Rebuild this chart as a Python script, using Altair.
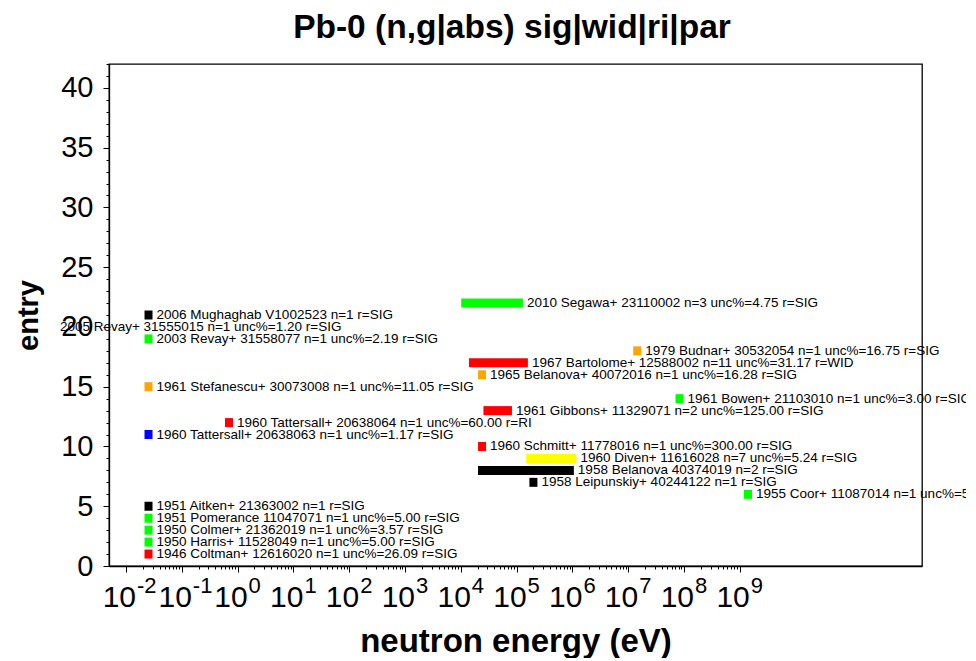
import altair as alt
import pandas as pd

# ---- data ----
entry = list(range(1, 23))
labels = [
    "1946 Coltman+ 12616020 n=1 unc%=26.09 r=SIG",
    "1950 Harris+ 11528049 n=1 unc%=5.00 r=SIG",
    "1950 Colmer+ 21362019 n=1 unc%=3.57 r=SIG",
    "1951 Pomerance 11047071 n=1 unc%=5.00 r=SIG",
    "1951 Aitken+ 21363002 n=1 r=SIG",
    "1955 Coor+ 11087014 n=1 unc%=5.00 r=SIG",
    "1958 Leipunskiy+ 40244122 n=1 r=SIG",
    "1958 Belanova 40374019 n=2 r=SIG",
    "1960 Diven+ 11616028 n=7 unc%=5.24 r=SIG",
    "1960 Schmitt+ 11778016 n=1 unc%=300.00 r=SIG",
    "1960 Tattersall+ 20638063 n=1 unc%=1.17 r=SIG",
    "1960 Tattersall+ 20638064 n=1 unc%=60.00 r=RI",
    "1961 Gibbons+ 11329071 n=2 unc%=125.00 r=SIG",
    "1961 Bowen+ 21103010 n=1 unc%=3.00 r=SIG",
    "1961 Stefanescu+ 30073008 n=1 unc%=11.05 r=SIG",
    "1965 Belanova+ 40072016 n=1 unc%=16.28 r=SIG",
    "1967 Bartolome+ 12588002 n=11 unc%=31.17 r=WID",
    "1979 Budnar+ 30532054 n=1 unc%=16.75 r=SIG",
    "2003 Revay+ 31558077 n=1 unc%=2.19 r=SIG",
    "2005 Revay+ 31555015 n=1 unc%=1.20 r=SIG",
    "2006 Mughaghab V1002523 n=1 r=SIG",
    "2010 Segawa+ 23110002 n=3 unc%=4.75 r=SIG",
]
e_lo = [0.0253, 0.0253, 0.0253, 0.0253, 0.0253, 1.4e9, 2.0e5, 2.4e4, 1.75e5, 2.4e4,
        0.0253, 0.7, 3.0e4, 8.3e7, 0.0253, 2.4e4, 1.65e4, 1.45e7, 0.0253, 4.7e-4,
        0.0253, 1.2e4]
e_hi = [0.0253, 0.0253, 0.0253, 0.0253, 0.0253, 1.4e9, 2.0e5, 9.0e5, 1.0e6, 2.4e4,
        0.0253, 0.7, 7.0e4, 8.3e7, 0.0253, 2.4e4, 1.35e5, 1.45e7, 0.0253, 4.7e-4,
        0.0253, 1.1e5]
colors = ["#ff0000", "#00ff00", "#00ff00", "#00ff00", "#000000", "#00ff00", "#000000",
          "#000000", "#ffff00", "#ff0000", "#0000ff", "#ff0000", "#ff0000", "#00ff00",
          "#ffa500", "#ffa500", "#ff0000", "#ffa500", "#00ff00", "#00ff00", "#000000",
          "#00ff00"]

# x tick labels: 10^k for k = -2 .. 9
decade_exp = list(range(-2, 10))

title_text = "Pb-0 (n,g|abs) sig|wid|ri|par"
x_title = "neutron energy (eV)"
y_title = "entry"

df = pd.DataFrame({"entry": entry, "label": labels, "e_lo": e_lo, "e_hi": e_hi,
                   "color": colors})
dec_df = pd.DataFrame({"dec": [10.0 ** k for k in decade_exp],
                       "base": ["10"] * len(decade_exp),
                       "exp": [str(k) for k in decade_exp]})
title_df = pd.DataFrame({"t": [title_text]})

FONT = "Liberation Sans"
W, H = 813, 502

xscale = alt.Scale(type="log", domain=[10 ** -2.305, 10 ** 12.265], nice=False, padding=0)
yscale = alt.Scale(domain=[0, 42], nice=False, zero=False, padding=0)

minor_x = [m * 10.0 ** k for k in range(-2, 9) for m in range(2, 10)]
major_x = [10.0 ** k for k in decade_exp]
minor_y = list(range(0, 43))
major_y = list(range(0, 41, 5))

bars = alt.Chart(df).mark_bar(size=9, clip=True, xOffset=-4, x2Offset=4).encode(
    x=alt.X("e_lo:Q", scale=xscale,
            axis=alt.Axis(values=minor_x, tickSize=3, labels=False, grid=False,
                          orient="bottom", title=x_title, titleX=W / 2, titleY=85,
                          titleAlign="center", titleBaseline="alphabetic",
                          titleFontSize=33, titleFontWeight="bold", titleFont=FONT)),
    x2="e_hi:Q",
    y=alt.Y("entry:Q", scale=yscale,
            axis=alt.Axis(values=minor_y, tickSize=3, labels=False, grid=False,
                          orient="left", title=None)),
    color=alt.Color("color:N", scale=None),
)

texts = alt.Chart(df).mark_text(align="left", baseline="middle", dx=8, fontSize=13.5,
                                font=FONT, color="black").encode(
    x=alt.X("e_hi:Q", scale=xscale,
            axis=alt.Axis(values=major_x, tickSize=6, labels=False, grid=False,
                          orient="bottom", domain=False, title=None)),
    y=alt.Y("entry:Q", scale=yscale,
            axis=alt.Axis(values=major_y, tickSize=6, labelFontSize=29, labelPadding=10,
                          grid=False, orient="left", domain=False, labelOverlap=False,
                          labelFlush=False, labelBound=False,
                          title=y_title, titleAngle=270, titleX=-72, titleY=H / 2,
                          titleAlign="center", titleBaseline="alphabetic",
                          titleFontSize=29, titleFontWeight="bold", titleFont=FONT)),
    text="label:N",
)

tick_base = alt.Chart(dec_df).mark_text(align="right", baseline="alphabetic", dx=10,
                                        fontSize=30, font=FONT, color="black").encode(
    x=alt.X("dec:Q", scale=xscale, axis=None),
    y=alt.value(H + 41),
    text="base:N",
)

tick_exp = alt.Chart(dec_df).mark_text(align="left", baseline="alphabetic", dx=11,
                                       fontSize=22, font=FONT, color="black").encode(
    x=alt.X("dec:Q", scale=xscale, axis=None),
    y=alt.value(H + 27),
    text="exp:N",
)

title_mark = alt.Chart(title_df).mark_text(align="center", baseline="alphabetic",
                                           fontSize=33.5, fontWeight="bold", font=FONT,
                                           color="black").encode(
    x=alt.value(W / 2 - 3.5),
    y=alt.value(-26),
    text="t:N",
)

chart = alt.layer(bars, texts, tick_base, tick_exp, title_mark).resolve_axis(
    x="independent", y="independent"
).properties(
    width=W, height=H,
    autosize=alt.AutoSizeParams(type="none"),
    padding={"left": 101, "top": 56, "right": 44, "bottom": 92},
).configure(
    font=FONT,
).configure_axis(
    labelFont=FONT, titleFont=FONT, labelColor="black", titleColor="black",
    domainColor="black", tickColor="black", domainWidth=1.3, tickWidth=1,
).configure_view(
    stroke="black", strokeWidth=1.3,
)

chart.save("out.html", embed_options={"renderer": "svg", "actions": False})
